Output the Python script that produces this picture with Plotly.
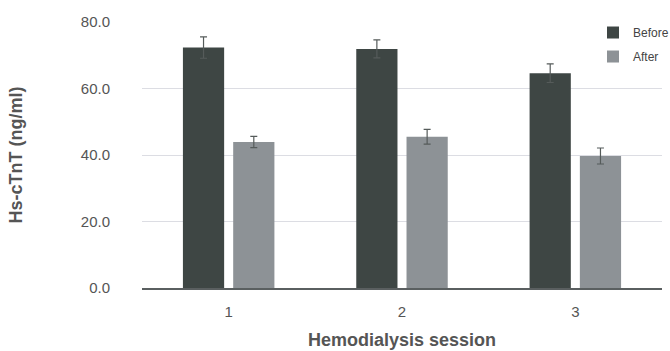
import plotly.graph_objects as go

sessions = ["1", "2", "3"]
before_vals = [72.3, 71.9, 64.6]
before_err = [3.2, 2.7, 2.8]
after_vals = [43.9, 45.5, 39.7]
after_err = [1.7, 2.2, 2.4]
y_ticks = [0, 20, 40, 60, 80]
y_tick_labels = ["0.0", "20.0", "40.0", "60.0", "80.0"]

fig = go.Figure()
fig.add_trace(go.Bar(
    x=sessions, y=before_vals, name="Before", legendgroup="a",
    marker=dict(color="#3e4644", line=dict(width=0)),
    error_y=dict(type="data", array=before_err, visible=True, color="#555b5a", thickness=1.2, width=3.5),
))
fig.add_trace(go.Bar(
    x=sessions, y=after_vals, name="After", legendgroup="b",
    marker=dict(color="#8d9296", line=dict(width=0)),
    error_y=dict(type="data", array=after_err, visible=True, color="#555b5a", thickness=1.2, width=3.5),
))

fig.update_layout(
    width=700, height=351,
    margin=dict(l=142, r=38, t=22, b=63),
    paper_bgcolor="white", plot_bgcolor="white",
    barmode="group", bargap=0.42, bargroupgap=0.18,
    font=dict(family="Liberation Sans, Arial, sans-serif", color="#555555"),
    showlegend=True,
    legend=dict(x=0.8673, y=1.015, xanchor="left", yanchor="top",
                font=dict(size=12, color="#444444"), bgcolor="rgba(0,0,0,0)",
                itemwidth=30, tracegroupgap=5, traceorder="grouped"),
    xaxis=dict(
        automargin=False,
        showline=True, linecolor="#5a5f60", linewidth=1.5,
        tickfont=dict(size=15, color="#555555"),
        ticks="", showgrid=False, ticklabelstandoff=9,
        title=dict(text="<b>Hemodialysis session</b>", font=dict(size=18, color="#555555"), standoff=15),
    ),
    yaxis=dict(
        automargin=False,
        range=[0, 80], tickvals=y_ticks, ticktext=y_tick_labels,
        tickfont=dict(size=15, color="#555555"),
        showgrid=True, gridcolor="#dcdde3", gridwidth=1,
        zeroline=False, showline=False, ticks="",
        ticklabelstandoff=31,
        title=dict(text="<b>Hs-cTnT (ng/ml)</b>", font=dict(size=18, color="#555555"), standoff=53),
    ),
)

fig.write_html("out.html", config={"displayModeBar": False},
               post_script="document.body.style.margin='0px';")
